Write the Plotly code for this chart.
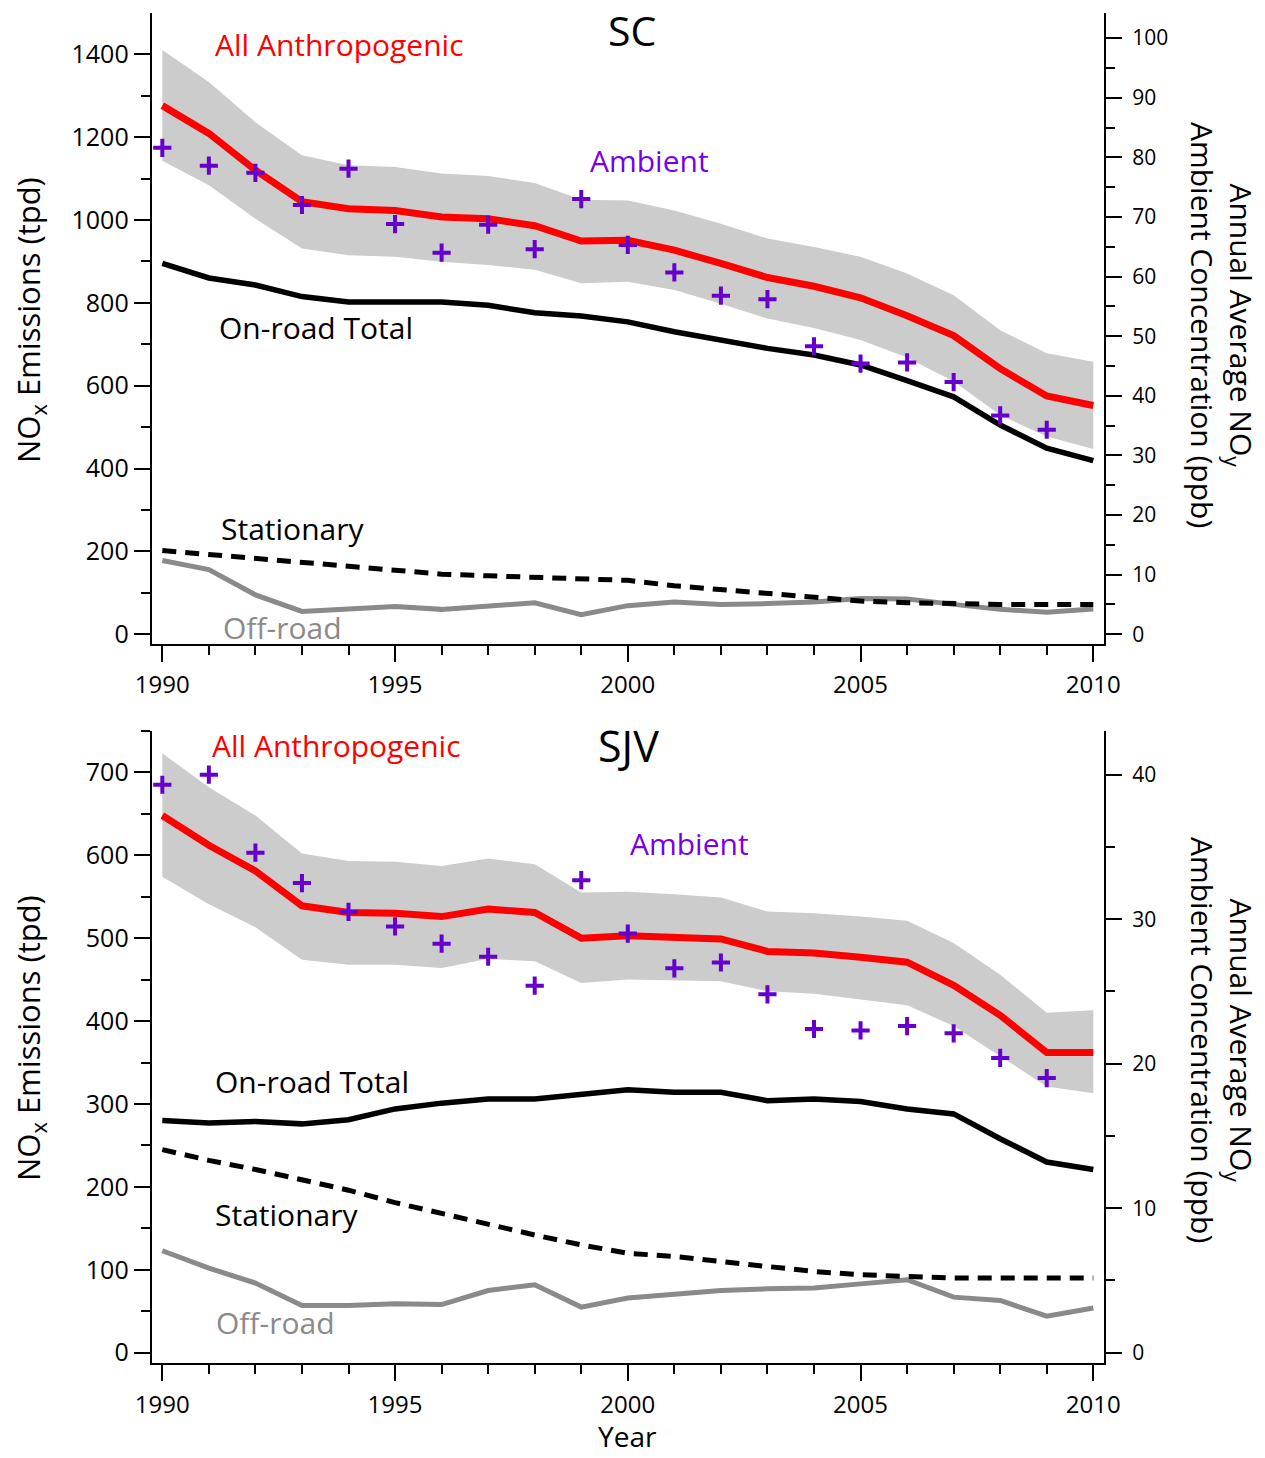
import plotly.graph_objects as go

# ---------------- data ----------------
years = list(range(1990, 2011))
amb_years = list(range(1990, 2010))

# South Coast (SC), NOx emissions in tons per day
sc_all = [1276, 1209, 1120, 1044, 1027, 1023, 1007, 1003, 986, 949, 951, 927, 895, 861, 840, 812, 769, 721, 641, 575, 552]
sc_all_hi = [1410, 1333, 1236, 1156, 1132, 1128, 1112, 1106, 1089, 1049, 1047, 1023, 991, 955, 935, 911, 871, 818, 734, 678, 658]
sc_all_lo = [1143, 1084, 1003, 931, 915, 911, 899, 891, 880, 847, 851, 831, 798, 762, 739, 710, 668, 610, 529, 477, 447]
sc_onroad = [895, 860, 843, 815, 802, 802, 802, 794, 776, 768, 754, 730, 710, 690, 674, 650, 612, 573, 505, 449, 419]
sc_stationary = [202, 192, 184, 173, 164, 154, 145, 141, 138, 134, 130, 117, 108, 98, 88, 80, 76, 73, 72, 72, 72]
sc_offroad = [178, 156, 95, 55, 61, 67, 60, 67, 76, 47, 69, 78, 72, 74, 78, 86, 85, 72, 60, 53, 61]
# SC annual average ambient NOy (ppb)
sc_ambient = [81.6, 78.6, 77.4, 72.0, 78.1, 68.8, 64.0, 68.7, 64.6, 73.0, 65.3, 60.7, 56.8, 56.2, 48.3, 45.4, 45.6, 42.3, 36.7, 34.3]

# San Joaquin Valley (SJV), NOx emissions in tons per day
sjv_all = [648, 612, 581, 539, 531, 530, 526, 535, 531, 500, 503, 500, 499, 484, 482, 477, 471, 443, 407, 362, 362]
sjv_all_hi = [723, 682, 648, 602, 593, 592, 587, 596, 589, 555, 556, 553, 549, 532, 530, 526, 521, 494, 456, 410, 413]
sjv_all_lo = [574, 541, 513, 474, 468, 468, 464, 475, 472, 446, 450, 449, 448, 436, 433, 426, 419, 394, 357, 321, 313]
sjv_onroad = [280, 277, 279, 276, 281, 294, 301, 306, 306, 312, 317, 314, 314, 304, 306, 303, 294, 288, 258, 230, 221]
sjv_stationary = [245, 232, 221, 209, 196, 181, 168, 154, 142, 130, 120, 116, 110, 104, 98, 94, 92, 90, 90, 90, 90]
sjv_offroad = [123, 102, 84, 57, 57, 59, 58, 75, 82, 55, 66, 70, 75, 77, 78, 83, 88, 67, 63, 44, 54]
# SJV annual average ambient NOy (ppb)
sjv_ambient = [39.3, 40.0, 34.6, 32.5, 30.5, 29.5, 28.3, 27.4, 25.4, 32.7, 29.0, 26.6, 27.0, 24.8, 22.4, 22.3, 22.6, 22.1, 20.4, 19.0]

# ---------------- styling ----------------
W, H = 1265, 1458
FONT = "Open Sans"
RED = "#FF0000"
BAND = "#CCCCCC"
OFF_GRAY = "#8A8A8A"
CROSS = "#6600CC"
AMB_TXT = "#7A00E8"
LABEL_SIZE = 30


def px(x):
    return x / W


def py(y):
    return 1 - y / H


fig = go.Figure()


def add_panel(xr, yl, yr, all_mid, all_hi, all_lo, onroad, stationary, offroad, ambient):
    fig.add_trace(go.Scatter(x=years, y=all_lo, xaxis=xr, yaxis=yl, mode="lines",
                             line=dict(width=0, color=BAND), hoverinfo="skip", showlegend=False))
    fig.add_trace(go.Scatter(x=years, y=all_hi, xaxis=xr, yaxis=yl, mode="lines",
                             line=dict(width=0, color=BAND), fill="tonexty", fillcolor=BAND,
                             hoverinfo="skip", showlegend=False))
    fig.add_trace(go.Scatter(x=years, y=onroad, xaxis=xr, yaxis=yl, mode="lines",
                             line=dict(width=5.5, color="black"), showlegend=False))
    fig.add_trace(go.Scatter(x=years, y=offroad, xaxis=xr, yaxis=yl, mode="lines",
                             line=dict(width=5, color=OFF_GRAY), showlegend=False))
    fig.add_trace(go.Scatter(x=years, y=stationary, xaxis=xr, yaxis=yl, mode="lines",
                             line=dict(width=5, color="black", dash="14px,9px"), showlegend=False))
    fig.add_trace(go.Scatter(x=years, y=all_mid, xaxis=xr, yaxis=yl, mode="lines",
                             line=dict(width=7, color=RED), showlegend=False))
    fig.add_trace(go.Scatter(x=amb_years, y=ambient, xaxis=xr, yaxis=yr, mode="markers",
                             marker=dict(symbol="cross-thin", size=13, color=CROSS,
                                         line=dict(width=4, color=CROSS)),
                             showlegend=False))


add_panel("x", "y", "y2", sc_all, sc_all_hi, sc_all_lo, sc_onroad, sc_stationary, sc_offroad, sc_ambient)
add_panel("x2", "y3", "y4", sjv_all, sjv_all_hi, sjv_all_lo, sjv_onroad, sjv_stationary, sjv_offroad, sjv_ambient)

x_dom = [px(151.7), px(1104)]
x_range = [1989.772, 2010.23]
top_dom = [py(643.5), py(13)]
bot_dom = [py(1362.7), py(730.7)]

axis_common = dict(showline=True, linecolor="black", linewidth=2, ticks="outside",
                   tickcolor="black", tickwidth=2, ticklen=16, showgrid=False, zeroline=False,
                   automargin=False,
                   tickfont=dict(family=FONT, size=25, color="black"))


def minor_ticks(vals):
    return dict(tickvals=vals, ticklen=9, tickwidth=2, tickcolor="black", ticks="outside")


xaxis_cfg = dict(axis_common, range=x_range, tickmode="array", tickvals=[1990, 1995, 2000, 2005, 2010],
                 minor=minor_ticks(years), ticklabelstandoff=3,
                 tickfont=dict(family=FONT, size=24, color="black"))

sc_left = [-22.4, 1499.6]
sc_ratio = 14.39
sjv_left = [-12.06, 750.2]
sjv_ratio = 17.43
right_font = dict(family=FONT, size=21, color="black")

fig.update_layout(
    width=W, height=H,
    margin=dict(l=0, r=0, t=0, b=0, autoexpand=False),
    paper_bgcolor="white", plot_bgcolor="white",
    xaxis=dict(xaxis_cfg, domain=x_dom, anchor="y"),
    xaxis2=dict(xaxis_cfg, domain=x_dom, anchor="y3"),
    yaxis=dict(axis_common, domain=top_dom, range=sc_left, anchor="x",
               tickvals=[0, 200, 400, 600, 800, 1000, 1200, 1400],
               minor=minor_ticks([100, 300, 500, 700, 900, 1100, 1300]),
               ticklabelstandoff=0),
    yaxis2=dict(axis_common, domain=top_dom, range=[sc_left[0] / sc_ratio, sc_left[1] / sc_ratio],
                overlaying="y", side="right", anchor="x",
                tickvals=list(range(0, 101, 10)),
                minor=minor_ticks(list(range(5, 101, 10))),
                tickfont=right_font, ticklabelstandoff=6),
    yaxis3=dict(axis_common, domain=bot_dom, range=sjv_left, anchor="x2",
                tickvals=[0, 100, 200, 300, 400, 500, 600, 700],
                minor=minor_ticks([50, 150, 250, 350, 450, 550, 650, 750]),
                ticklabelstandoff=0),
    yaxis4=dict(axis_common, domain=bot_dom, range=[sjv_left[0] / sjv_ratio, sjv_left[1] / sjv_ratio],
                overlaying="y3", side="right", anchor="x2",
                tickvals=[0, 10, 20, 30, 40],
                minor=minor_ticks([5, 15, 25, 35]),
                tickfont=right_font, ticklabelstandoff=6),
)


def label(text, x, y, size, color="black", xanchor="left", angle=0):
    fig.add_annotation(text=text, x=px(x), y=py(y), xref="paper", yref="paper",
                       xanchor=xanchor, yanchor="middle", showarrow=False, textangle=angle,
                       font=dict(family=FONT, size=size, color=color))


# SC panel labels
label("SC", 632, 30, 41, xanchor="center")
label("All Anthropogenic", 213, 44, LABEL_SIZE, RED)
label("Ambient", 588, 161, LABEL_SIZE, AMB_TXT)
label("On-road Total", 217, 327, LABEL_SIZE)
label("Stationary", 219, 528, LABEL_SIZE)
label("Off-road", 221, 627, LABEL_SIZE, OFF_GRAY)

# SJV panel labels
label("SJV", 628, 745, 43, xanchor="center")
label("All Anthropogenic", 210, 745, LABEL_SIZE, RED)
label("Ambient", 628, 843, LABEL_SIZE, AMB_TXT)
label("On-road Total", 213, 1081, LABEL_SIZE)
label("Stationary", 213, 1214, LABEL_SIZE)
label("Off-road", 214, 1322, LABEL_SIZE, OFF_GRAY)

# axis titles
left_title = "NO<sub>x</sub> Emissions (tpd)"
right_title = "Annual Average NO<sub>y</sub><br>Ambient Concentration (ppb)"
label(left_title, 30, 320, 31, xanchor="center", angle=-90)
label(left_title, 30, 1038, 31, xanchor="center", angle=-90)
label(right_title, 1222, 325, 30, xanchor="center", angle=90)
label(right_title, 1222, 1040, 30, xanchor="center", angle=90)
label("Year", 627, 1436, 28, xanchor="center")

fig.write_html("out.html")
